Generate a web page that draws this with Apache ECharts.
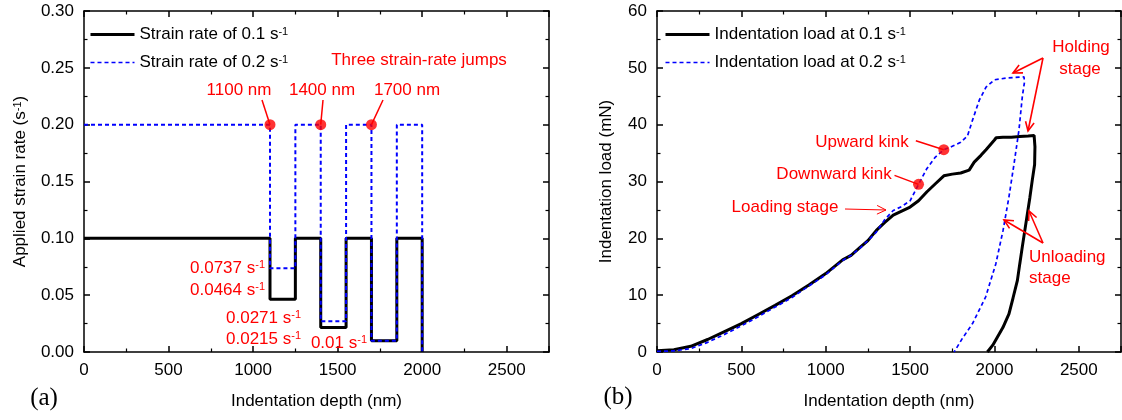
<!DOCTYPE html>
<html>
<head>
<meta charset="utf-8">
<script src="https://cdn.jsdelivr.net/npm/echarts@6/dist/echarts.min.js"></script>
<style>
  html, body { margin: 0; padding: 0; background: #fff; }
  #chart { width: 1122px; height: 420px; }
</style>
</head>
<body>
<div id="chart"></div>
<script>
// (a) strain-rate jumps
const jumpStart = [1100, 1400, 1700];
const jumpEnd = [1250, 1550, 1850];
const endDepth = 2000;
const baseRate01 = 0.1;
const baseRate02 = 0.2;
const lowRate01 = [0.0464, 0.0215, 0.01];
const lowRate02 = [0.0737, 0.0271, 0.01];

// (b) load - depth curves (loading, holding, unloading)
const depth01 = [0, 100, 200, 300, 400, 500, 600, 700, 800, 900, 1000, 1100, 1150, 1200, 1250, 1300, 1350, 1400, 1450, 1500,
  1550, 1600, 1650, 1700, 1750, 1800, 1850, 1880, 1920, 1950, 2000, 2010, 2050, 2100, 2150, 2200, 2235,
  2240, 2238, 2224, 2210, 2195, 2180, 2165, 2150, 2136, 2110, 2086, 2050, 2017, 1990, 1958];
const load01 = [0.2, 0.4, 1.0, 2.2, 3.6, 5.0, 6.6, 8.2, 9.9, 11.8, 13.8, 16.2, 17.0, 18.3, 19.6, 21.4, 22.8, 24.1, 24.8, 25.5,
  26.6, 28.2, 29.6, 31.0, 31.3, 31.5, 32.0, 33.4, 34.6, 35.6, 37.3, 37.7, 37.8, 37.8, 37.9, 38.0, 38.1,
  36.1, 33.0, 30.2, 27.2, 24.3, 21.4, 18.5, 15.5, 12.6, 9.5, 6.7, 4.3, 2.6, 1.2, 0];
const depth02 = [0, 100, 200, 300, 400, 500, 600, 700, 800, 900, 1000, 1100, 1150, 1200, 1250, 1300, 1350, 1400, 1450, 1500,
  1550, 1600, 1650, 1700, 1750, 1800, 1840, 1870, 1910, 1950, 2000, 2070, 2175,
  2178, 2165, 2145, 2116, 2086, 2051, 2008, 1948, 1870, 1810, 1761];
const load02 = [0.1, 0.2, 0.6, 1.7, 3.1, 4.6, 6.2, 7.9, 9.6, 11.6, 13.6, 16.1, 17.0, 18.2, 19.6, 21.1, 23.3, 24.9, 25.6, 26.6,
  29.5, 32.3, 34.3, 35.6, 36.2, 36.9, 38.0, 40.8, 44.3, 46.6, 47.9, 48.2, 48.4,
  47.5, 44.9, 39.0, 33.1, 27.3, 21.4, 15.5, 9.7, 5.0, 2.4, 0];
const kinkDepth = [1550, 1700];
const kinkLoad = [29.5, 35.6];

const FONT = 'Liberation Sans';
const RED = '#ff0000';
const SUP = { fontSize: 11, verticalAlign: 'top', fontFamily: FONT };

// step path of one strain rate history
function stepPath(base, lows) {
  const pts = [[0, base]];
  jumpStart.forEach((d, i) => {
    pts.push([d, base], [d, lows[i]], [jumpEnd[i], lows[i]], [jumpEnd[i], base]);
  });
  pts.push([endDepth, base], [endDepth, 0]);
  return pts;
}

function axisX(grid, top, name) {
  return {
    gridIndex: grid, type: 'value', min: 0, max: 2750, interval: 500,
    position: top ? 'top' : 'bottom',
    name: top ? '' : name, nameLocation: 'middle', nameGap: 41,
    nameTextStyle: { fontSize: 17, color: '#000', fontFamily: FONT },
    axisLine: { onZero: false, lineStyle: { color: '#000', width: 1.5 } },
    axisTick: { inside: true, length: 6, lineStyle: { color: '#000', width: 1.5 } },
    minorTick: { show: true, splitNumber: 2, length: 3.5, lineStyle: { color: '#000', width: 1.2 } },
    axisLabel: { show: !top, fontSize: 17, color: '#000', fontFamily: FONT, margin: 10, showMaxLabel: false,
      formatter: v => String(v) },
    splitLine: { show: false }
  };
}

function axisY(grid, right, max, interval, name, gap, fmt) {
  return {
    gridIndex: grid, type: 'value', min: 0, max: max, interval: interval,
    position: right ? 'right' : 'left',
    name: right ? '' : name, nameLocation: 'middle', nameGap: gap,
    nameTextStyle: { fontSize: 17, color: '#000', fontFamily: FONT, rich: { sup: SUP } },
    axisLine: { onZero: false, lineStyle: { color: '#000', width: 1.5 } },
    axisTick: { inside: true, length: 6, lineStyle: { color: '#000', width: 1.5 } },
    minorTick: { show: true, splitNumber: 2, length: 3.5, lineStyle: { color: '#000', width: 1.2 } },
    axisLabel: { show: !right, fontSize: 17, color: '#000', fontFamily: FONT, margin: 10,
      formatter: fmt || (v => String(v)) },
    splitLine: { show: false }
  };
}

function legendFmt(name) {
  return name.replace(' s-1', ' s{sup|-1}');
}

// legend: solid thick line + thin dashed line
function legendAt(left, names) {
  return {
    data: [
      { name: names[0], lineStyle: { width: 3, color: '#000', type: 'solid' } },
      { name: names[1], lineStyle: { width: 1.7, color: '#0000ff', type: [4, 3] } }
    ],
    orient: 'vertical', left: left, top: 26, padding: 0,
    itemWidth: 44, itemHeight: 16, itemGap: 11,
    selectedMode: false, formatter: legendFmt,
    itemStyle: { opacity: 0 },
    textStyle: { fontSize: 17, color: '#000', fontFamily: FONT, rich: { sup: SUP } }
  };
}

function txt(text, x, y, align, extra) {
  return {
    type: 'text', z: 100, silent: true,
    style: Object.assign({
      text: text, x: x, y: y,
      fill: RED, fontSize: 17, fontFamily: FONT,
      align: align || 'center', verticalAlign: 'middle',
      textAlign: align || 'center', textVerticalAlign: 'middle',
      rich: { sup: Object.assign({ fill: RED }, SUP) }
    }, extra || {})
  };
}

function seg(x1, y1, x2, y2, w) {
  return {
    type: 'line', z: 100, silent: true,
    shape: { x1: x1, y1: y1, x2: x2, y2: y2 },
    style: { stroke: RED, lineWidth: w || 1.5 }
  };
}

// open V arrow head
function arrow(x1, y1, x2, y2, w) {
  const a = Math.atan2(y2 - y1, x2 - x1);
  const len = 10, spread = 0.45;
  return [
    seg(x1, y1, x2, y2, w),
    {
      type: 'polyline', z: 100, silent: true,
      shape: { points: [
        [x2 - len * Math.cos(a - spread), y2 - len * Math.sin(a - spread)],
        [x2, y2],
        [x2 - len * Math.cos(a + spread), y2 - len * Math.sin(a + spread)]
      ] },
      style: { stroke: RED, lineWidth: w || 1.5, fill: null }
    }
  ];
}

const chart = echarts.init(document.getElementById('chart'), null, { renderer: 'canvas' });

const option = {
  animation: false,
  backgroundColor: '#fff',
  grid: [
    { left: 84, right: 573, top: 11, bottom: 68 },
    { left: 657, right: 1, top: 11, bottom: 68 }
  ],
  xAxis: [
    axisX(0, false, 'Indentation depth (nm)'),
    axisX(0, true),
    axisX(1, false, 'Indentation depth (nm)'),
    axisX(1, true)
  ],
  yAxis: [
    axisY(0, false, 0.3, 0.05, 'Applied strain rate (s{sup|-1})', 55, v => v.toFixed(2)),
    axisY(0, true, 0.3, 0.05),
    axisY(1, false, 60, 10, 'Indentation load (mN)', 42),
    axisY(1, true, 60, 10)
  ],
  legend: [
    legendAt(89, ['Strain rate of 0.1 s-1', 'Strain rate of 0.2 s-1']),
    legendAt(664, ['Indentation load at 0.1 s-1', 'Indentation load at 0.2 s-1'])
  ],
  series: [
    {
      name: 'Strain rate of 0.1 s-1', type: 'line', xAxisIndex: 0, yAxisIndex: 0,
      data: stepPath(baseRate01, lowRate01), symbol: 'none', z: 2,
      lineStyle: { color: '#000', width: 3 }, itemStyle: { color: '#000' }
    },
    {
      name: 'Strain rate of 0.2 s-1', type: 'line', xAxisIndex: 0, yAxisIndex: 0,
      data: stepPath(baseRate02, lowRate02), symbol: 'none', z: 3,
      lineStyle: { color: '#0000ff', width: 2, type: [4, 3] }, itemStyle: { color: '#0000ff' }
    },
    {
      type: 'scatter', xAxisIndex: 0, yAxisIndex: 0, z: 5, symbolSize: 11,
      data: jumpStart.map(d => [d, baseRate02]), itemStyle: { color: RED }
    },
    {
      name: 'Indentation load at 0.1 s-1', type: 'line', xAxisIndex: 2, yAxisIndex: 2,
      data: depth01.map((d, i) => [d, load01[i]]), symbol: 'none', z: 2,
      lineStyle: { color: '#000', width: 3 }, itemStyle: { color: '#000' }
    },
    {
      name: 'Indentation load at 0.2 s-1', type: 'line', xAxisIndex: 2, yAxisIndex: 2,
      data: depth02.map((d, i) => [d, load02[i]]), symbol: 'none', z: 3,
      lineStyle: { color: '#0000ff', width: 1.7, type: [4, 3] }, itemStyle: { color: '#0000ff' }
    },
    {
      type: 'scatter', xAxisIndex: 2, yAxisIndex: 2, z: 5, symbolSize: 11,
      data: kinkDepth.map((d, i) => [d, kinkLoad[i]]), itemStyle: { color: RED }
    }
  ]
};

chart.setOption(option);

// leader lines end on the dots
const jumpPx = jumpStart.map(d => chart.convertToPixel({ xAxisIndex: 0, yAxisIndex: 0 }, [d, baseRate02]));
const kinkPx = kinkDepth.map((d, i) => chart.convertToPixel({ xAxisIndex: 2, yAxisIndex: 2 }, [d, kinkLoad[i]]));
const labelFoot = [[262, 100], [323, 100], [383, 100]];

const graphics = [
  txt('(a)', 44, 398, 'center', { fill: '#000', fontSize: 25, fontFamily: 'Liberation Serif' }),
  txt('(b)', 618, 397, 'center', { fill: '#000', fontSize: 25, fontFamily: 'Liberation Serif' }),
  txt('Three strain-rate jumps', 419, 60),
  txt('1100 nm', 239, 90),
  txt('1400 nm', 322, 90),
  txt('1700 nm', 407, 90),
  txt('0.0737 s{sup|-1}', 265, 268, 'right'),
  txt('0.0464 s{sup|-1}', 265, 290, 'right'),
  txt('0.0271 s{sup|-1}', 301, 318, 'right'),
  txt('0.0215 s{sup|-1}', 301, 339, 'right'),
  txt('0.01 s{sup|-1}', 367, 343, 'right'),
  txt('Holding', 1081, 47),
  txt('stage', 1080, 69),
  txt('Upward kink', 862, 142),
  txt('Downward kink', 834, 174),
  txt('Loading stage', 785, 207),
  txt('Unloading', 1029, 257, 'left'),
  txt('stage', 1029, 278, 'left'),
  seg(kinkPx[1][0] - 28, kinkPx[1][1] - 9, kinkPx[1][0], kinkPx[1][1], 1.5),
  seg(kinkPx[0][0] - 24, kinkPx[0][1] - 9, kinkPx[0][0], kinkPx[0][1], 1.5)
];
labelFoot.forEach((p, i) => graphics.push(seg(p[0], p[1], jumpPx[i][0], jumpPx[i][1], 1.5)));
graphics.push(
  ...arrow(1043, 58, 1013, 73, 1.6),
  ...arrow(1043, 58, 1028, 131, 1.6),
  ...arrow(1043, 243, 1004, 220, 1.6),
  ...arrow(1043, 243, 1029, 211, 1.6),
  ...arrow(845, 209, 886, 210, 1)
);

chart.setOption({ graphic: graphics });
</script>
</body>
</html>
